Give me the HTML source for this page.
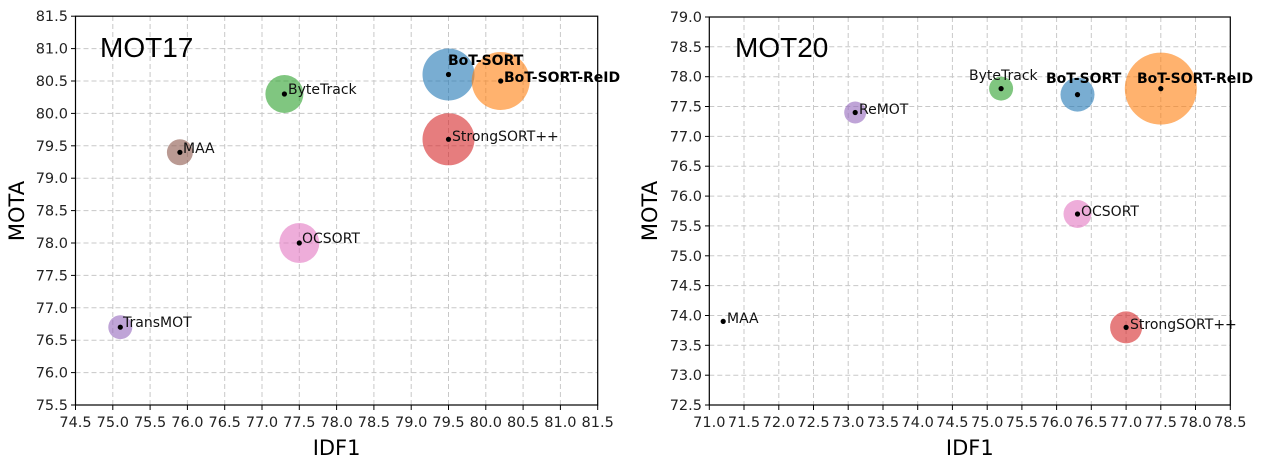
<!DOCTYPE html>
<html><head><meta charset="utf-8"><style>
html,body{margin:0;padding:0;background:#fff;}
svg{display:block;font-family:"DejaVu Sans","Liberation Sans",sans-serif;}
.g line{stroke:#c8c8c8;stroke-width:1;stroke-dasharray:5,3;}
.t{font-size:14.5px;fill:#222;}
.l{font-size:14px;fill:#111;}
.b{font-size:14px;fill:#000;font-weight:bold;}
</style></head><body>
<svg width="1262" height="473" viewBox="0 0 1262 473">
<!-- LEFT -->
<g class="g">
<line x1="112.8" y1="16" x2="112.8" y2="405"/><line x1="150.1" y1="16" x2="150.1" y2="405"/><line x1="187.4" y1="16" x2="187.4" y2="405"/><line x1="224.7" y1="16" x2="224.7" y2="405"/><line x1="262" y1="16" x2="262" y2="405"/><line x1="299.3" y1="16" x2="299.3" y2="405"/><line x1="336.6" y1="16" x2="336.6" y2="405"/><line x1="373.9" y1="16" x2="373.9" y2="405"/><line x1="411.2" y1="16" x2="411.2" y2="405"/><line x1="448.5" y1="16" x2="448.5" y2="405"/><line x1="485.8" y1="16" x2="485.8" y2="405"/><line x1="523.1" y1="16" x2="523.1" y2="405"/><line x1="560.4" y1="16" x2="560.4" y2="405"/>
<line x1="75.5" y1="372.6" x2="597.7" y2="372.6"/><line x1="75.5" y1="340.2" x2="597.7" y2="340.2"/><line x1="75.5" y1="307.8" x2="597.7" y2="307.8"/><line x1="75.5" y1="275.4" x2="597.7" y2="275.4"/><line x1="75.5" y1="243" x2="597.7" y2="243"/><line x1="75.5" y1="210.6" x2="597.7" y2="210.6"/><line x1="75.5" y1="178.2" x2="597.7" y2="178.2"/><line x1="75.5" y1="145.8" x2="597.7" y2="145.8"/><line x1="75.5" y1="113.4" x2="597.7" y2="113.4"/><line x1="75.5" y1="81" x2="597.7" y2="81"/><line x1="75.5" y1="48.6" x2="597.7" y2="48.6"/>
</g>
<g fill-opacity="0.6">
<circle cx="448.5" cy="74.5" r="26" fill="#1f77b4"/>
<circle cx="500.7" cy="81" r="29" fill="#ff7f0e"/>
<circle cx="448.5" cy="139.3" r="26" fill="#d62728"/>
<circle cx="284.4" cy="94" r="19" fill="#2ca02c"/>
<circle cx="179.9" cy="152.3" r="13" fill="#8c564b"/>
<circle cx="299.3" cy="243" r="20" fill="#e377c2"/>
<circle cx="120.3" cy="327.2" r="12" fill="#9467bd"/>
</g>
<g fill="#000">
<circle cx="448.5" cy="74.5" r="2.6"/><circle cx="500.7" cy="81" r="2.6"/><circle cx="448.5" cy="139.3" r="2.6"/><circle cx="284.4" cy="94" r="2.6"/><circle cx="179.9" cy="152.3" r="2.6"/><circle cx="299.3" cy="243" r="2.6"/><circle cx="120.3" cy="327.2" r="2.6"/>
</g>
<text class="b" x="448" y="65">BoT-SORT</text>
<text class="b" x="504" y="82">BoT-SORT-ReID</text>
<text class="l" x="452" y="141">StrongSORT++</text>
<text class="l" x="288" y="94">ByteTrack</text>
<text class="l" x="183" y="153">MAA</text>
<text class="l" x="302" y="243">OCSORT</text>
<text class="l" x="123" y="327">TransMOT</text>
<rect x="75.5" y="16.2" width="522.2" height="388.8" fill="none" stroke="#000" stroke-width="1.2"/>
<text x="100" y="57" font-size="28" fill="#000" font-family="Liberation Sans, sans-serif">MOT17</text>
<g class="t" text-anchor="end">
<text x="68" y="410">75.5</text><text x="68" y="377.6">76.0</text><text x="68" y="345.2">76.5</text><text x="68" y="312.8">77.0</text><text x="68" y="280.4">77.5</text><text x="68" y="248">78.0</text><text x="68" y="215.6">78.5</text><text x="68" y="183.2">79.0</text><text x="68" y="150.8">79.5</text><text x="68" y="118.4">80.0</text><text x="68" y="86">80.5</text><text x="68" y="53.6">81.0</text><text x="68" y="21.2">81.5</text>
</g>
<g stroke="#000"><line x1="71" y1="405" x2="75.5" y2="405"/><line x1="71" y1="372.6" x2="75.5" y2="372.6"/><line x1="71" y1="340.2" x2="75.5" y2="340.2"/><line x1="71" y1="307.8" x2="75.5" y2="307.8"/><line x1="71" y1="275.4" x2="75.5" y2="275.4"/><line x1="71" y1="243" x2="75.5" y2="243"/><line x1="71" y1="210.6" x2="75.5" y2="210.6"/><line x1="71" y1="178.2" x2="75.5" y2="178.2"/><line x1="71" y1="145.8" x2="75.5" y2="145.8"/><line x1="71" y1="113.4" x2="75.5" y2="113.4"/><line x1="71" y1="81" x2="75.5" y2="81"/><line x1="71" y1="48.6" x2="75.5" y2="48.6"/><line x1="71" y1="16.2" x2="75.5" y2="16.2"/>
<line x1="75.5" y1="405" x2="75.5" y2="410"/><line x1="112.8" y1="405" x2="112.8" y2="410"/><line x1="150.1" y1="405" x2="150.1" y2="410"/><line x1="187.4" y1="405" x2="187.4" y2="410"/><line x1="224.7" y1="405" x2="224.7" y2="410"/><line x1="262" y1="405" x2="262" y2="410"/><line x1="299.3" y1="405" x2="299.3" y2="410"/><line x1="336.6" y1="405" x2="336.6" y2="410"/><line x1="373.9" y1="405" x2="373.9" y2="410"/><line x1="411.2" y1="405" x2="411.2" y2="410"/><line x1="448.5" y1="405" x2="448.5" y2="410"/><line x1="485.8" y1="405" x2="485.8" y2="410"/><line x1="523.1" y1="405" x2="523.1" y2="410"/><line x1="560.4" y1="405" x2="560.4" y2="410"/><line x1="597.7" y1="405" x2="597.7" y2="410"/></g>
<g class="t" text-anchor="middle">
<text x="75.5" y="427">74.5</text><text x="112.8" y="427">75.0</text><text x="150.1" y="427">75.5</text><text x="187.4" y="427">76.0</text><text x="224.7" y="427">76.5</text><text x="262" y="427">77.0</text><text x="299.3" y="427">77.5</text><text x="336.6" y="427">78.0</text><text x="373.9" y="427">78.5</text><text x="411.2" y="427">79.0</text><text x="448.5" y="427">79.5</text><text x="485.8" y="427">80.0</text><text x="523.1" y="427">80.5</text><text x="560.4" y="427">81.0</text><text x="597.7" y="427">81.5</text>
</g>
<text x="336.6" y="455" font-size="21" text-anchor="middle" fill="#000">IDF1</text>
<text transform="translate(24,211) rotate(-90)" font-size="21" text-anchor="middle" fill="#000">MOTA</text>

<!-- RIGHT -->
<g class="g">
<line x1="744" y1="17" x2="744" y2="405"/><line x1="778.8" y1="17" x2="778.8" y2="405"/><line x1="813.5" y1="17" x2="813.5" y2="405"/><line x1="848.2" y1="17" x2="848.2" y2="405"/><line x1="883" y1="17" x2="883" y2="405"/><line x1="917.7" y1="17" x2="917.7" y2="405"/><line x1="952.4" y1="17" x2="952.4" y2="405"/><line x1="987.2" y1="17" x2="987.2" y2="405"/><line x1="1021.9" y1="17" x2="1021.9" y2="405"/><line x1="1056.6" y1="17" x2="1056.6" y2="405"/><line x1="1091.3" y1="17" x2="1091.3" y2="405"/><line x1="1126.1" y1="17" x2="1126.1" y2="405"/><line x1="1160.8" y1="17" x2="1160.8" y2="405"/><line x1="1195.5" y1="17" x2="1195.5" y2="405"/>
<line x1="709.3" y1="375.2" x2="1230.3" y2="375.2"/><line x1="709.3" y1="345.3" x2="1230.3" y2="345.3"/><line x1="709.3" y1="315.5" x2="1230.3" y2="315.5"/><line x1="709.3" y1="285.6" x2="1230.3" y2="285.6"/><line x1="709.3" y1="255.8" x2="1230.3" y2="255.8"/><line x1="709.3" y1="225.9" x2="1230.3" y2="225.9"/><line x1="709.3" y1="196.1" x2="1230.3" y2="196.1"/><line x1="709.3" y1="166.2" x2="1230.3" y2="166.2"/><line x1="709.3" y1="136.4" x2="1230.3" y2="136.4"/><line x1="709.3" y1="106.5" x2="1230.3" y2="106.5"/><line x1="709.3" y1="76.7" x2="1230.3" y2="76.7"/><line x1="709.3" y1="46.8" x2="1230.3" y2="46.8"/>
</g>
<g fill-opacity="0.6">
<circle cx="1160.8" cy="88.6" r="36" fill="#ff7f0e"/>
<circle cx="1077.5" cy="94.6" r="17" fill="#1f77b4"/>
<circle cx="1001.1" cy="88.6" r="12" fill="#2ca02c"/>
<circle cx="855.2" cy="112.5" r="11" fill="#9467bd"/>
<circle cx="1077.5" cy="214" r="14" fill="#e377c2"/>
<circle cx="1126.1" cy="327.4" r="16" fill="#d62728"/>
</g>
<g fill="#000">
<circle cx="1160.8" cy="88.6" r="2.6"/><circle cx="1077.5" cy="94.6" r="2.6"/><circle cx="1001.1" cy="88.6" r="2.6"/><circle cx="855.2" cy="112.5" r="2.6"/><circle cx="1077.5" cy="214" r="2.6"/><circle cx="1126.1" cy="327.4" r="2.6"/><circle cx="723.2" cy="321.4" r="2.6"/>
</g>
<text class="b" x="1137" y="83">BoT-SORT-ReID</text>
<text class="b" x="1046" y="83">BoT-SORT</text>
<text class="l" x="969" y="80">ByteTrack</text>
<text class="l" x="859" y="114">ReMOT</text>
<text class="l" x="1081" y="216">OCSORT</text>
<text class="l" x="1130" y="329">StrongSORT++</text>
<text class="l" x="727" y="323">MAA</text>
<rect x="709.3" y="17" width="521" height="388" fill="none" stroke="#000" stroke-width="1.2"/>
<text x="735" y="57" font-size="28" fill="#000" font-family="Liberation Sans, sans-serif">MOT20</text>
<g class="t" text-anchor="end">
<text x="702" y="410">72.5</text><text x="702" y="380.2">73.0</text><text x="702" y="350.3">73.5</text><text x="702" y="320.5">74.0</text><text x="702" y="290.6">74.5</text><text x="702" y="260.8">75.0</text><text x="702" y="230.9">75.5</text><text x="702" y="201.1">76.0</text><text x="702" y="171.2">76.5</text><text x="702" y="141.4">77.0</text><text x="702" y="111.5">77.5</text><text x="702" y="81.7">78.0</text><text x="702" y="51.8">78.5</text><text x="702" y="22">79.0</text>
</g>
<g stroke="#000"><line x1="705" y1="405" x2="709.3" y2="405"/><line x1="705" y1="375.2" x2="709.3" y2="375.2"/><line x1="705" y1="345.3" x2="709.3" y2="345.3"/><line x1="705" y1="315.5" x2="709.3" y2="315.5"/><line x1="705" y1="285.6" x2="709.3" y2="285.6"/><line x1="705" y1="255.8" x2="709.3" y2="255.8"/><line x1="705" y1="225.9" x2="709.3" y2="225.9"/><line x1="705" y1="196.1" x2="709.3" y2="196.1"/><line x1="705" y1="166.2" x2="709.3" y2="166.2"/><line x1="705" y1="136.4" x2="709.3" y2="136.4"/><line x1="705" y1="106.5" x2="709.3" y2="106.5"/><line x1="705" y1="76.7" x2="709.3" y2="76.7"/><line x1="705" y1="46.8" x2="709.3" y2="46.8"/><line x1="705" y1="17" x2="709.3" y2="17"/>
<line x1="709.3" y1="405" x2="709.3" y2="410"/><line x1="744" y1="405" x2="744" y2="410"/><line x1="778.8" y1="405" x2="778.8" y2="410"/><line x1="813.5" y1="405" x2="813.5" y2="410"/><line x1="848.2" y1="405" x2="848.2" y2="410"/><line x1="883" y1="405" x2="883" y2="410"/><line x1="917.7" y1="405" x2="917.7" y2="410"/><line x1="952.4" y1="405" x2="952.4" y2="410"/><line x1="987.2" y1="405" x2="987.2" y2="410"/><line x1="1021.9" y1="405" x2="1021.9" y2="410"/><line x1="1056.6" y1="405" x2="1056.6" y2="410"/><line x1="1091.3" y1="405" x2="1091.3" y2="410"/><line x1="1126.1" y1="405" x2="1126.1" y2="410"/><line x1="1160.8" y1="405" x2="1160.8" y2="410"/><line x1="1195.5" y1="405" x2="1195.5" y2="410"/><line x1="1230.3" y1="405" x2="1230.3" y2="410"/></g>
<g class="t" text-anchor="middle">
<text x="709.3" y="427">71.0</text><text x="744" y="427">71.5</text><text x="778.8" y="427">72.0</text><text x="813.5" y="427">72.5</text><text x="848.2" y="427">73.0</text><text x="883" y="427">73.5</text><text x="917.7" y="427">74.0</text><text x="952.4" y="427">74.5</text><text x="987.2" y="427">75.0</text><text x="1021.9" y="427">75.5</text><text x="1056.6" y="427">76.0</text><text x="1091.3" y="427">76.5</text><text x="1126.1" y="427">77.0</text><text x="1160.8" y="427">77.5</text><text x="1195.5" y="427">78.0</text><text x="1230.3" y="427">78.5</text>
</g>
<text x="969.8" y="455" font-size="21" text-anchor="middle" fill="#000">IDF1</text>
<text transform="translate(657,211) rotate(-90)" font-size="21" text-anchor="middle" fill="#000">MOTA</text>
</svg>
</body></html>
